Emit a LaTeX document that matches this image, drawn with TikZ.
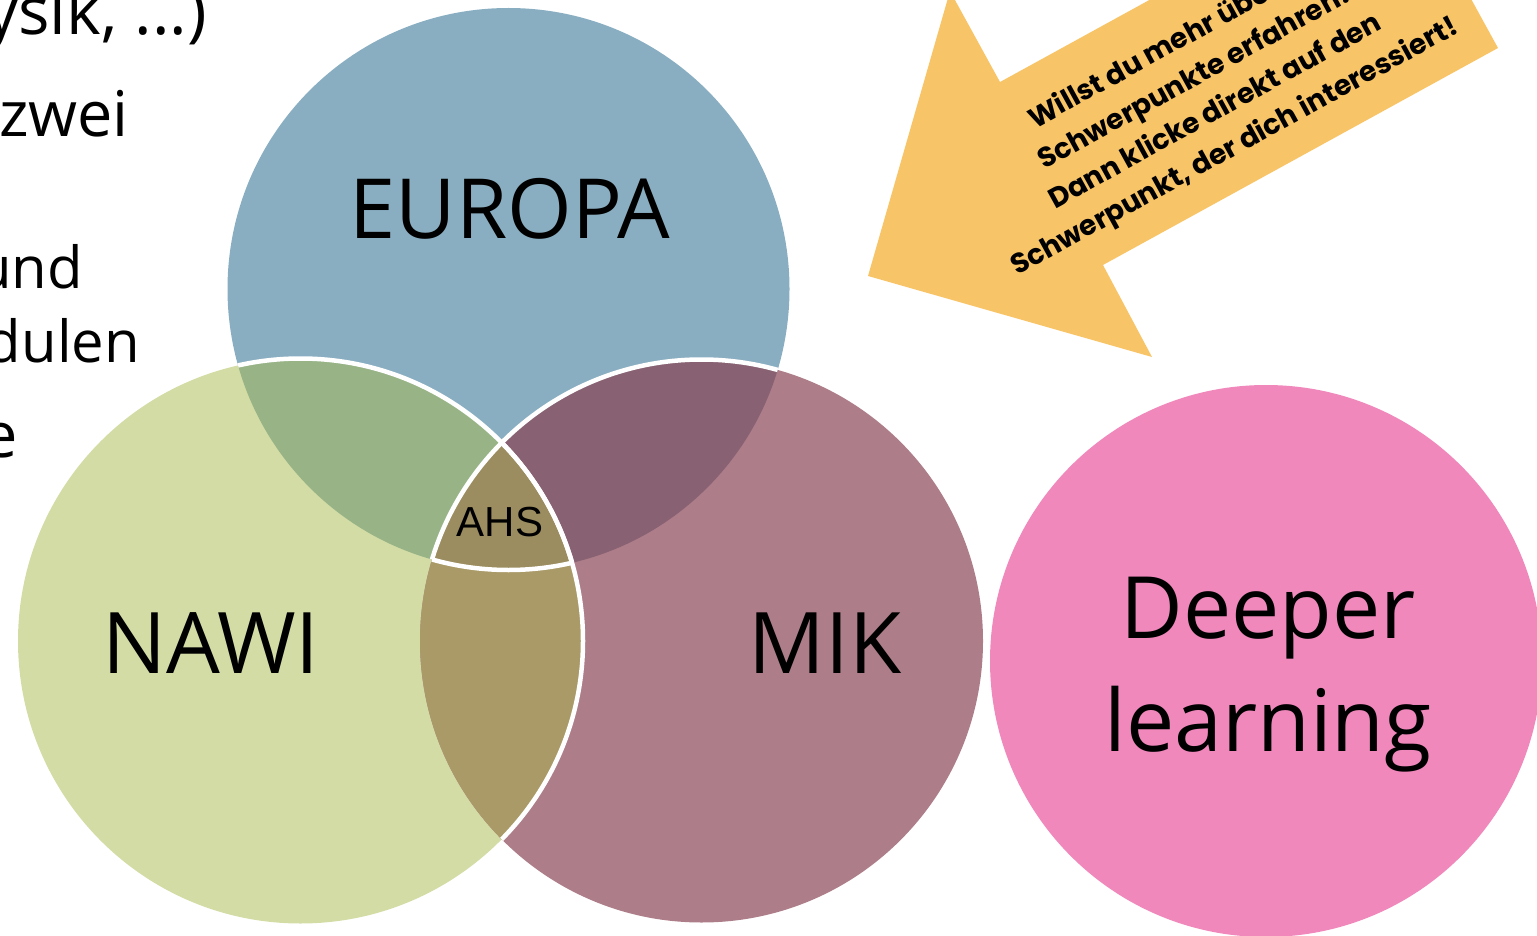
\documentclass[tikz,border=0pt]{standalone}
\usepackage{fontspec}
\setmainfont{Open Sans}
\newfontfamily\arialf{Liberation Sans}
\newfontfamily\poppf{Poppins}
\definecolor{cEur}{HTML}{8AAEC1}
\definecolor{cNaw}{HTML}{D4DCA6}
\definecolor{cMik}{HTML}{AD7D89}
\definecolor{cEN}{HTML}{98B487}
\definecolor{cEM}{HTML}{886272}
\definecolor{cNM}{HTML}{AA9A68}
\definecolor{cAll}{HTML}{9B8D60}
\definecolor{cDeep}{HTML}{F088BC}
\definecolor{cArrow}{HTML}{F8C468}
\tikzset{
  biglabel/.style={font=\fontsize{83}{90}\selectfont, inner sep=0pt},
  sidetext/.style={font=\fontsize{63}{70}\selectfont, inner sep=0pt, anchor=base east},
  whiteline/.style={draw=white, line width=4.5pt}
}
\begin{document}
\begin{tikzpicture}[x=1pt,y=-1pt]
\useasboundingbox (0,0) rectangle (1537,936);
\clip (0,0) rectangle (1537,936);
\coordinate (cE) at (508.5,289);
\coordinate (cN) at (300.5,641);
\coordinate (cM) at (701.5,641);
\coordinate (cD) at (1266,661);
% base circles
\fill[cEur] (cE) circle[radius=281];
\fill[cNaw] (cN) circle[radius=282.5];
\fill[cMik] (cM) circle[radius=281.5];
% pairwise overlaps
\begin{scope}
  \clip (cE) circle[radius=281];
  \fill[cEN] (cN) circle[radius=282.5];
  \fill[cEM] (cM) circle[radius=281.5];
\end{scope}
\begin{scope}
  \clip (cN) circle[radius=282.5];
  \fill[cNM] (cM) circle[radius=281.5];
  \clip (cM) circle[radius=281.5];
  \fill[cAll] (cE) circle[radius=281];
\end{scope}
% white outlines
\begin{scope}
  \clip (cE) circle[radius=281];
  \draw[whiteline] (cN) circle[radius=282.5];
  \draw[whiteline] (cM) circle[radius=281.5];
\end{scope}
\begin{scope}
  \clip (cM) circle[radius=281.5];
  \draw[whiteline] (cN) circle[radius=282.5];
  \clip (cN) circle[radius=282.5];
  \draw[whiteline] (cE) circle[radius=281];
\end{scope}
% deeper learning circle
\fill[cDeep] (cD) circle[radius=276];
% labels
\node[biglabel] (eur) at (510,209) {EUROPA};
\node[biglabel, font=\fontsize{85}{90}\selectfont] (naw) at (211,643) {NAWI};
\node[biglabel, font=\fontsize{85}{90}\selectfont] (mik) at (825,643) {MIK};
\node[inner sep=0pt, font=\arialf\fontsize{42}{48}\selectfont] (ahs) at (500,522) {AHS};
\node[inner sep=0pt, align=center, font=\fontsize{86}{113}\selectfont] (deep) at (1268,675) {Deeper\\learning};
% side text (cut off at the left)
\node[sidetext, font=\fontsize{66}{70}\selectfont] (t1) at (207,35) {ysik, ...)};
\node[sidetext] (t2) at (129,137) {zwei};
\node[sidetext, font=\fontsize{58}{64}\selectfont] (t3) at (83,288) {und};
\node[sidetext, font=\fontsize{58}{64}\selectfont] (t4) at (140,362) {dulen};
\node[sidetext] (t5) at (18,457) {e};
% arrow
\fill[cArrow] (868,276) -- (950,-9) -- (1000,82) -- (1397,-136) -- (1498,48)
  -- (1103,265) -- (1152,357) -- cycle;
\node[rotate=28.8, align=center, inner sep=0pt,
  font=\poppf\bfseries\fontsize{28}{40}\selectfont] (arrtext) at (1206,95)
  {Willst du mehr über die\\Schwerpunkte erfahren?\\Dann klicke direkt auf den\\Schwerpunkt, der dich interessiert!};
\end{tikzpicture}
\end{document}
